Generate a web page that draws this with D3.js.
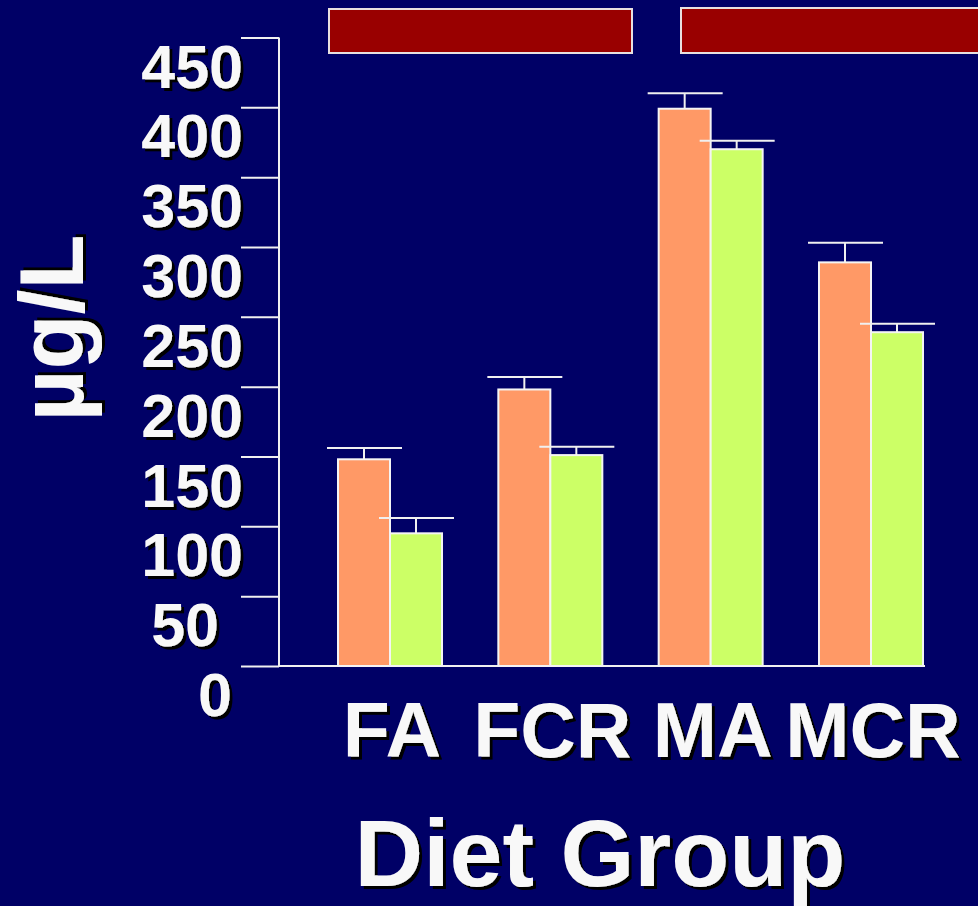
<!DOCTYPE html>
<html lang="en">
<head>
<meta charset="UTF-8">
<title>Diet Group</title>
<script src="https://cdn.jsdelivr.net/npm/d3@7"></script>
<style>
    body { margin: 0; background: #000066; }
    svg { display: block; }
    text { font-family: "Liberation Sans", Arial, sans-serif; font-weight: bold; fill: #f8f8f8; }
</style>
</head>
<body>
<script>
// data
const categories = ["FA", "FCR", "MA", "MCR"];
const orangeValues = [148, 198, 399, 289];
const orangeErrors = [8, 9, 11, 14];
const greenValues = [95, 151, 370, 239];
const greenErrors = [11, 6, 6, 6];
const yTicks = [0, 50, 100, 150, 200, 250, 300, 350, 400, 450];

const width = 978, height = 906;
const svg = d3.select("body").append("svg")
    .attr("width", width)
    .attr("height", height);

svg.append("rect").attr("width", width).attr("height", height).attr("fill", "#000066");

// black drop shadow under the white text
const defs = svg.append("defs");
defs.append("filter").attr("id", "shadow")
    .attr("x", "-10%").attr("y", "-10%").attr("width", "130%").attr("height", "130%")
    .append("feDropShadow")
    .attr("dx", 3).attr("dy", 3).attr("stdDeviation", 0)
    .attr("flood-color", "#000").attr("flood-opacity", 1);

const axisX = 279;
const y = d3.scaleLinear().domain([0, 450]).range([666, 37.5]);
const x = d3.scalePoint().domain(categories).range([390, 871]);
const barW = 52;

// red bars at the top
svg.append("rect").attr("x", 329).attr("y", 9).attr("width", 303).attr("height", 44)
    .attr("fill", "#990000").attr("stroke", "#e8e0e0").attr("stroke-width", 2);
svg.append("rect").attr("x", 681).attr("y", 8).attr("width", 310).attr("height", 45)
    .attr("fill", "#990000").attr("stroke", "#e8e0e0").attr("stroke-width", 2);

// y axis with ticks to the left
const yAxis = svg.append("g")
    .attr("transform", `translate(${axisX},0)`)
    .call(d3.axisLeft(y).tickValues(yTicks).tickSize(38).tickFormat(""));
yAxis.select(".domain").remove();
yAxis.selectAll(".tick line").attr("stroke", "#f0f0f0").attr("stroke-width", 2);
svg.append("line")
    .attr("x1", axisX).attr("x2", axisX)
    .attr("y1", y(450)).attr("y2", y(0))
    .attr("stroke", "#f0f0f0").attr("stroke-width", 2);
svg.append("line")
    .attr("x1", axisX).attr("x2", 925)
    .attr("y1", y(0)).attr("y2", y(0))
    .attr("stroke", "#f0f0f0").attr("stroke-width", 2);

// tick labels sit a bit below their ticks; the two short ones are nudged left like the slide
svg.append("g").selectAll("text")
    .data(yTicks)
    .join("text")
    .attr("x", d => d === 50 ? 219 : d === 0 ? 232 : 243)
    .attr("y", d => y(d) + 50)
    .attr("text-anchor", "end")
    .style("font-size", "61px")
    .attr("filter", "url(#shadow)")
    .text(d => d);

// bars
const groups = [
    { values: orangeValues, errors: orangeErrors, color: "#ff9966", offset: -barW },
    { values: greenValues, errors: greenErrors, color: "#ccff66", offset: 0 }
];

groups.forEach(g => {
    const bars = categories.map((c, i) => ({ cat: c, v: g.values[i], e: g.errors[i] }));
    const layer = svg.append("g");

    // error bars (upper only)
    layer.selectAll(".stem")
        .data(bars)
        .join("line")
        .attr("x1", d => x(d.cat) + g.offset + barW / 2)
        .attr("x2", d => x(d.cat) + g.offset + barW / 2)
        .attr("y1", d => y(d.v))
        .attr("y2", d => y(d.v + d.e))
        .attr("stroke", "#f0f0f0").attr("stroke-width", 2);
    layer.selectAll(".cap")
        .data(bars)
        .join("line")
        .attr("x1", d => x(d.cat) + g.offset + barW / 2 - 37)
        .attr("x2", d => x(d.cat) + g.offset + barW / 2 + 38)
        .attr("y1", d => y(d.v + d.e))
        .attr("y2", d => y(d.v + d.e))
        .attr("stroke", "#f0f0f0").attr("stroke-width", 2);

    layer.selectAll("rect")
        .data(bars)
        .join("rect")
        .attr("x", d => x(d.cat) + g.offset)
        .attr("y", d => y(d.v))
        .attr("width", barW)
        .attr("height", d => y(0) - y(d.v))
        .attr("fill", g.color)
        .attr("stroke", "#f4f4f4").attr("stroke-width", 2);
});

// category labels
svg.append("g").selectAll("text")
    .data(categories)
    .join("text")
    .attr("x", d => x(d) + 2)
    .attr("y", 757)
    .attr("text-anchor", "middle")
    .style("font-size", "77px")
    .attr("filter", "url(#shadow)")
    .text(d => d);

// axis titles
svg.append("text")
    .attr("x", 600).attr("y", 886)
    .attr("text-anchor", "middle")
    .style("font-size", "95px")
    .attr("filter", "url(#shadow)")
    .text("Diet Group");

svg.append("text")
    .attr("transform", "translate(83,328) rotate(-90)")
    .attr("text-anchor", "middle")
    .style("font-size", "90px")
    .attr("filter", "url(#shadow)")
    .text("µg/L");
</script>
</body>
</html>
